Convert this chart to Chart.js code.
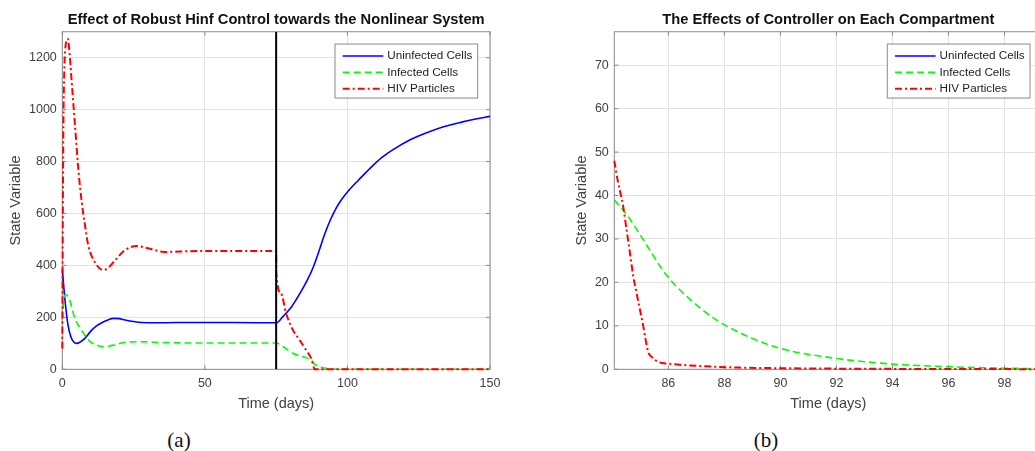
<!DOCTYPE html>
<html>
<head>
<meta charset="utf-8">
<script src="https://cdn.jsdelivr.net/npm/chart.js@4.4.0/dist/chart.umd.min.js"></script>
<style>
  html, body { margin: 0; padding: 0; background: #fff; width: 1035px; height: 451px; overflow: hidden; position: relative; }
  .panel { position: absolute; top: 0; }
  #wrapA { left: 0; width: 520px; height: 420px; }
  #wrapB { left: 530px; width: 545px; height: 420px; }
  .cap { position: absolute; top: 428px; line-height: 24px; font: 21px "Liberation Serif", "DejaVu Serif", serif; color: #111; transform: translateX(-50%); }
</style>
</head>
<body>
<div class="panel" id="wrapA"><canvas id="chartA" width="520" height="420"></canvas></div>
<div class="panel" id="wrapB"><canvas id="chartB" width="545" height="420"></canvas></div>
<div class="cap" style="left:179px">(a)</div>
<div class="cap" style="left:766px">(b)</div>
<script>
// ---- panel (a): whole run, controller switched on at day 75 ----
const tUninfA = [0, 1, 2, 3, 4, 5, 6, 8, 10, 12, 14, 16, 18, 20, 22, 25, 28, 32, 40, 50, 60, 75, 77.5, 80, 82, 84, 86, 88, 90, 92, 94, 96, 98, 100, 104, 108, 112, 116, 122, 128, 134, 140, 145, 150];
const uninfA  = [385, 260, 170, 125, 105, 100, 103, 120, 147, 167, 180, 190, 196, 195, 190, 184, 180, 179, 180, 180, 180, 179, 205, 235, 268, 305, 345, 393, 455, 520, 575, 620, 655, 683, 730, 775, 815, 846, 884, 912, 935, 952, 964, 974];

const tInfA = [0, 0.6, 1.2, 2.5, 4, 5, 6.5, 8.5, 10, 11.5, 14, 16, 18, 22, 28, 35, 50, 75, 77.5, 81, 84, 86, 87.5, 88.5, 90, 92, 95, 98, 150];
const infA  = [190, 270, 288, 270, 210, 182, 155, 122, 105, 96, 87, 89, 93, 104, 106, 103, 101, 101, 87, 61, 50, 42, 33, 20, 11, 5, 1, 0, 0];

const tHivA = [0, 0.15, 0.35, 0.7, 1.2, 1.9, 2.7, 3.3, 4.45, 5.6, 6.8, 7.95, 9.1, 11.5, 14.4, 16.5, 18.5, 22, 26, 30, 36, 45, 60, 75, 75.05, 76.7, 78.5, 80.9, 83.2, 85.5, 87.3, 88.6, 150];
const hivA  = [80, 500, 900, 1150, 1250, 1273, 1196, 1106, 940, 773, 645, 555, 478, 411, 382, 395, 420, 459, 475, 466, 452, 455, 456, 455, 370, 292, 215, 151, 113, 74, 42, 0, 0];

const controlDay = 75;
const xRangeA = [0, 150];
const yRangeA = [0, 1300];
const xTicksA = [0, 50, 100, 150];
const yTicksA = [0, 200, 400, 600, 800, 1000, 1200];

// ---- panel (b): zoom on the days after the controller ----
const tInfB = [84.07, 84.57, 84.93, 85.41, 85.88, 86.36, 86.83, 87.31, 87.96, 88.5, 89, 90, 92, 94, 96, 98, 99.35];
const infB  = [39, 35.1, 31.6, 26.7, 22.1, 18.6, 15.8, 13.2, 10.4, 8.6, 7.1, 4.8, 2.5, 1.2, 0.6, 0.25, 0.15];

const tHivB = [84.07, 84.19, 84.39, 84.51, 84.63, 84.75, 84.87, 84.99, 85.11, 85.19, 85.28, 85.41, 85.64, 86.0, 86.71, 87.31, 88.5, 90, 92, 95, 99.35];
const hivB  = [48, 43.5, 37.4, 32.0, 26.7, 21.3, 17.4, 13.6, 9.7, 6.7, 4.0, 2.8, 1.7, 1.3, 0.9, 0.7, 0.4, 0.25, 0.15, 0.08, 0.03];

const xRangeB = [84.07, 99.35];
const yRangeB = [0, 77.7];
const xTicksB = [86, 88, 90, 92, 94, 96, 98];
const yTicksB = [0, 10, 20, 30, 40, 50, 60, 70];

Chart.defaults.font.family = '"Liberation Sans", Arial, sans-serif';

const pts = (xs, ys) => xs.map((x, i) => ({ x: x, y: ys[i] }));

function series(label, xs, ys, color, width, dash, order){
   return {
      label: label,
      data: pts(xs, ys),
      showLine: true,
      borderColor: color,
      backgroundColor: color,
      borderWidth: width,
      borderDash: dash,
      pointRadius: 0,
      cubicInterpolationMode: 'monotone',
      clip: { left: 3, top: 0, right: 3, bottom: 3 },
      order: order,
      inLegend: true
   };
}

// matlab style box + inward tick marks
const boxPlugin = {
   id: 'box',
   beforeDatasetsDraw(chart){
      const { ctx, chartArea: a, scales } = chart;
      ctx.save();
      ctx.strokeStyle = '#8a8a8a';
      ctx.lineWidth = 1;
      ctx.strokeRect(a.left, a.top, a.right - a.left, a.bottom - a.top);
      ctx.beginPath();
      scales.x.ticks.forEach(t => {
         const px = scales.x.getPixelForValue(t.value);
         ctx.moveTo(px, a.bottom); ctx.lineTo(px, a.bottom - 4);
         ctx.moveTo(px, a.top); ctx.lineTo(px, a.top + 4);
      });
      scales.y.ticks.forEach(t => {
         const py = scales.y.getPixelForValue(t.value);
         ctx.moveTo(a.left, py); ctx.lineTo(a.left + 4, py);
         ctx.moveTo(a.right, py); ctx.lineTo(a.right - 4, py);
      });
      ctx.stroke();
      ctx.restore();
   }
};

// legend box inside the axes, top right
const boxLegend = {
   id: 'boxLegend',
   afterDraw(chart){
      const { ctx, chartArea: a } = chart;
      const items = chart.data.datasets.filter(d => d.inLegend);
      const w = 142.7, h = 54;
      const x0 = a.right - 12.3 - w, y0 = a.top + 12.3;
      ctx.save();
      ctx.fillStyle = '#fff';
      ctx.fillRect(x0, y0, w, h);
      ctx.strokeStyle = '#8a8a8a';
      ctx.lineWidth = 1;
      ctx.strokeRect(x0, y0, w, h);
      ctx.font = '11.7px "Liberation Sans", Arial, sans-serif';
      ctx.textBaseline = 'middle';
      items.forEach((d, i) => {
         const y = y0 + 12 + i * 16.3;
         ctx.strokeStyle = d.borderColor;
         ctx.lineWidth = d.borderWidth;
         ctx.setLineDash(d.borderDash || []);
         ctx.beginPath();
         ctx.moveTo(x0 + 7.7, y);
         ctx.lineTo(x0 + 48.3, y);
         ctx.stroke();
         ctx.setLineDash([]);
         ctx.fillStyle = '#222';
         ctx.fillText(d.label, x0 + 52.3, y);
      });
      ctx.restore();
   }
};

function makeOptions(o){
   return {
      responsive: false,
      animation: false,
      events: [],
      layout: { padding: o.padding },
      plugins: {
         legend: { display: false },
         tooltip: { enabled: false },
         title: {
            display: true,
            text: o.title,
            fullSize: false,
            color: '#111',
            font: { size: 14.7, weight: 'bold' },
            padding: { top: 10.7, bottom: 3.4 }
         }
      },
      scales: {
         x: {
            type: 'linear',
            min: o.xRange[0],
            max: o.xRange[1],
            afterBuildTicks: s => { s.ticks = o.xTicks.map(v => ({ value: v })); },
            afterFit: s => { s.height = 50.7; },
            grid: { color: '#e2e2e2', drawTicks: false },
            border: { display: false },
            ticks: { color: '#404040', font: { size: 12.5 }, padding: 7, maxRotation: 0, callback: v => String(v) },
            title: { display: true, text: 'Time (days)', color: '#404040', font: { size: 14.5 }, padding: { top: 7.3, bottom: 7.3 } }
         },
         y: {
            type: 'linear',
            min: o.yRange[0],
            max: o.yRange[1],
            afterBuildTicks: s => { s.ticks = o.yTicks.map(v => ({ value: v })); },
            afterFit: s => { s.width = o.yWidth; },
            grid: { color: '#e2e2e2', drawTicks: false },
            border: { display: false },
            ticks: { color: '#404040', font: { size: 12.5 }, padding: 5.5, callback: v => String(v) },
            title: { display: true, text: 'State Variable', color: '#404040', font: { size: 14.5 }, padding: { top: 7.3, bottom: 7.3 } }
         }
      }
   };
}

const chartA = new Chart(document.getElementById('chartA').getContext('2d'), {
   type: 'scatter',
   data: {
      datasets: [
         series('Uninfected Cells', tUninfA, uninfA, '#0000ff', 1.6, [], 3),
         series('Infected Cells', tInfA, infA, '#00ff00', 1.6, [7, 4], 2),
         series('HIV Particles', tHivA, hivA, '#ff0000', 2, [7, 3, 2, 3], 1),
         {
            label: '',
            data: [{ x: controlDay, y: yRangeA[0] }, { x: controlDay, y: yRangeA[1] }],
            showLine: true,
            borderColor: '#000',
            borderWidth: 2,
            pointRadius: 0,
            order: 0
         }
      ]
   },
   options: makeOptions({
      title: 'Effect of Robust Hinf Control towards the Nonlinear System',
      padding: { left: 0, right: 30, top: 0, bottom: 0 },
      xRange: xRangeA, yRange: yRangeA, xTicks: xTicksA, yTicks: yTicksA,
      yWidth: 62.3
   }),
   plugins: [boxPlugin, boxLegend]
});

const chartB = new Chart(document.getElementById('chartB').getContext('2d'), {
   type: 'scatter',
   data: {
      datasets: [
         // uninfected stays far above this y range, same run as panel (a)
         series('Uninfected Cells', tUninfA, uninfA, '#0000ff', 1.6, [], 3),
         series('Infected Cells', tInfB, infB, '#00ff00', 1.6, [7, 4], 2),
         series('HIV Particles', tHivB, hivB, '#ff0000', 2, [7, 3, 2, 3], 1)
      ]
   },
   options: makeOptions({
      title: 'The Effects of Controller on Each Compartment',
      padding: { left: 36, right: 32.7, top: 0, bottom: 0 },
      xRange: xRangeB, yRange: yRangeB, xTicks: xTicksB, yTicks: yTicksB,
      yWidth: 48.3
   }),
   plugins: [boxPlugin, boxLegend]
});
</script>
</body>
</html>
